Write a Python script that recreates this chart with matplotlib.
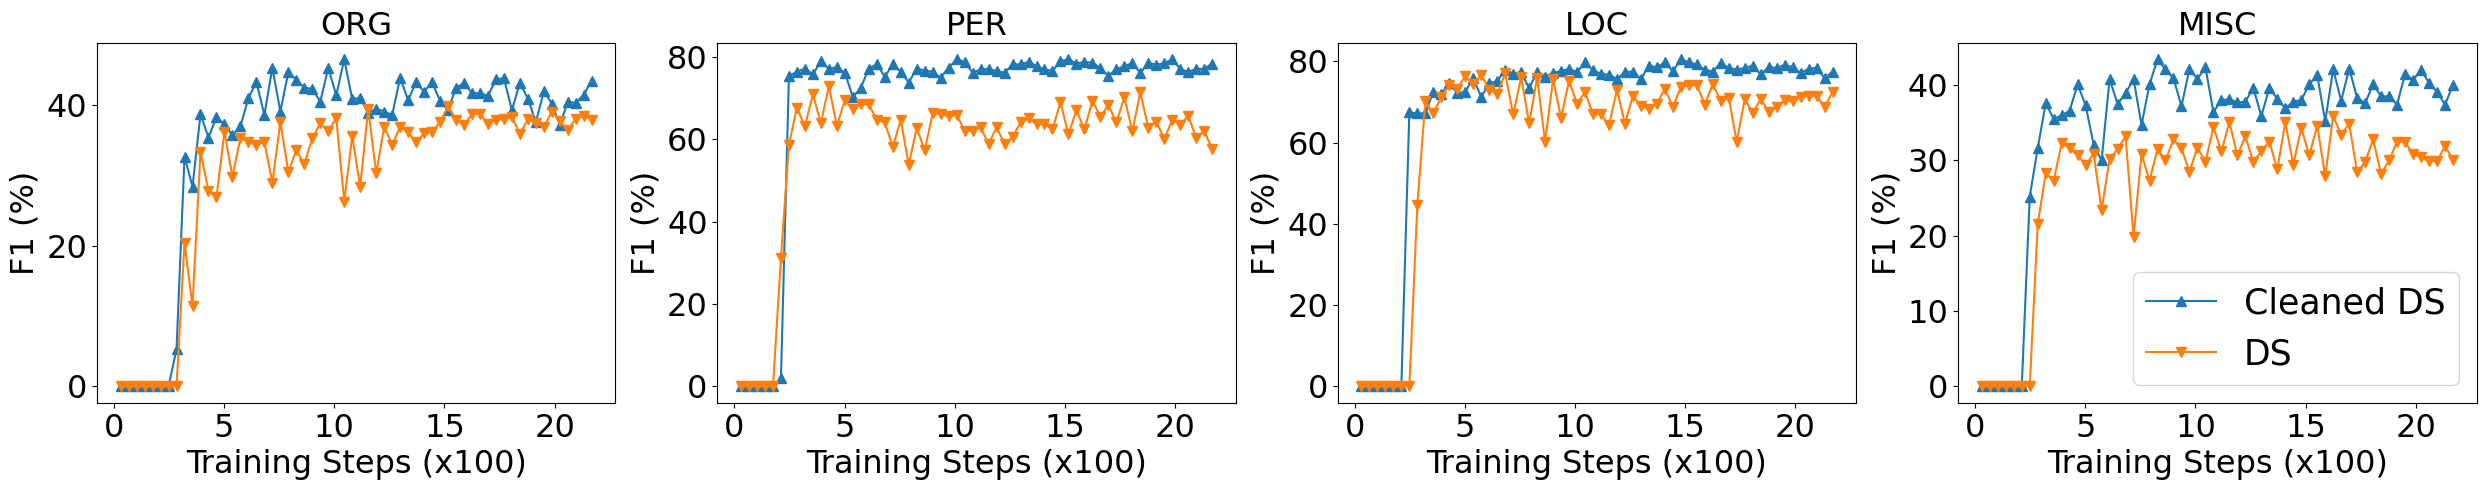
import matplotlib
matplotlib.use("Agg")
import matplotlib.pyplot as plt
import numpy as np

# evaluation points (x100 training steps)
steps = np.linspace(0.3, 21.69, 60)

org_clean = [0, 0, 0, 0, 0, 0, 0, 5.3, 32.7, 28.4, 38.7, 35.4, 38.3, 37.3, 35.7, 37.0, 41.0, 43.3,
             38.6, 45.3, 39.1, 44.7, 43.6, 42.5, 42.3, 40.5, 45.3, 41.4, 46.5, 40.9, 41.0, 38.9,
             39.5, 39.1, 38.6, 43.9, 40.7, 43.3, 41.9, 43.3, 40.6, 39.3, 42.5, 43.1, 41.7, 41.7,
             41.3, 43.7, 43.8, 39.3, 43.2, 40.9, 37.6, 42.0, 40.2, 37.2, 40.5, 40.3, 41.5, 43.5]
org_ds = [0, 0, 0, 0, 0, 0, 0, 0, 20.4, 11.4, 33.4, 27.8, 26.9, 36.2, 29.8, 35.4, 34.7, 34.4,
          34.7, 29.0, 37.6, 30.5, 33.6, 31.6, 35.3, 37.4, 36.3, 38.2, 26.3, 35.6, 28.4, 39.5,
          30.3, 36.9, 34.4, 36.9, 36.2, 34.7, 36.0, 36.2, 37.6, 39.9, 37.9, 37.2, 38.7, 38.8,
          37.3, 37.9, 38.0, 38.3, 35.9, 38.0, 37.4, 36.9, 39.1, 37.8, 36.4, 38.1, 38.5, 37.9]

per_clean = [0, 0, 0, 0, 0, 2.0, 75.4, 76.4, 77.2, 75.8, 79.0, 77.1, 77.5, 76.2, 70.3, 72.5,
             77.2, 78.2, 75.2, 78.2, 76.4, 73.8, 77.2, 76.7, 76.4, 75.0, 77.4, 79.4, 78.8, 76.2,
             77.0, 77.1, 76.6, 76.2, 78.2, 78.2, 78.8, 77.8, 77.0, 76.6, 79.0, 79.4, 78.4, 78.8,
             78.6, 77.3, 75.4, 77.1, 77.7, 78.6, 76.1, 78.6, 78.1, 78.5, 79.4, 77.1, 76.4, 77.1,
             77.1, 78.4]
per_ds = [0, 0, 0, 0, 0, 31.2, 58.7, 67.7, 63.2, 70.9, 64.0, 72.9, 63.3, 69.5, 67.3, 68.5,
          68.5, 64.7, 64.1, 58.2, 64.7, 53.8, 62.8, 57.3, 66.3, 66.1, 65.6, 65.9, 62.1, 62.1,
          62.9, 58.9, 62.9, 58.9, 60.6, 64.1, 65.1, 63.7, 63.7, 62.4, 69.0, 61.2, 67.1, 62.4,
          69.4, 65.5, 68.3, 64.1, 70.2, 62.0, 71.4, 62.8, 64.3, 60.1, 64.7, 63.6, 65.7, 60.4,
          62.0, 57.7]

loc_clean = [0, 0, 0, 0, 0, 0, 67.5, 67.2, 67.3, 72.6, 72.0, 74.7, 72.2, 72.5, 76.0, 71.2,
             74.7, 75.1, 78.0, 77.0, 77.4, 73.4, 77.4, 76.3, 77.2, 77.6, 78.2, 77.4, 79.8, 77.8,
             77.0, 76.7, 75.7, 77.4, 77.5, 75.7, 78.9, 78.6, 79.8, 77.6, 80.5, 79.8, 79.3, 78.0,
             77.5, 79.7, 78.4, 78.0, 78.4, 79.0, 76.8, 78.6, 78.4, 79.2, 78.6, 77.2, 78.2, 78.4,
             75.9, 77.5]
loc_ds = [0, 0, 0, 0, 0, 0, 0, 44.6, 70.2, 67.3, 71.2, 74.3, 73.3, 76.4, 74.5, 76.7, 73.1,
          72.0, 77.1, 67.0, 76.1, 64.8, 76.0, 60.2, 75.7, 66.1, 75.3, 69.6, 72.5, 67.0, 67.0,
          64.3, 73.0, 64.7, 71.6, 69.0, 68.4, 69.6, 73.3, 68.8, 73.7, 74.1, 74.3, 69.4, 74.5,
          70.2, 71.0, 60.2, 70.8, 67.3, 70.8, 67.5, 68.8, 70.4, 70.2, 71.2, 71.6, 71.5, 68.8,
          72.5]

misc_clean = [0, 0, 0, 0, 0, 0, 25.2, 31.6, 37.6, 35.5, 36.0, 36.6, 40.1, 37.3, 32.1, 30.0,
              40.8, 37.5, 38.9, 40.8, 34.7, 40.1, 43.4, 42.1, 40.9, 37.2, 42.1, 40.8, 42.4, 36.4,
              38.0, 38.1, 37.7, 37.8, 39.6, 35.9, 39.6, 38.2, 36.9, 37.8, 38.0, 40.1, 41.3, 35.2,
              42.1, 37.9, 42.2, 38.3, 37.6, 40.1, 38.5, 38.5, 37.4, 41.5, 40.7, 42.0, 40.3, 39.1,
              37.4, 40.0]
misc_ds = [0, 0, 0, 0, 0, 0, 0, 21.5, 28.3, 27.3, 32.3, 31.6, 30.7, 29.4, 30.9, 23.4, 30.2,
           31.5, 33.2, 19.9, 30.8, 27.3, 31.5, 30.0, 32.8, 31.6, 28.5, 31.7, 29.8, 34.4, 31.2,
           35.1, 30.7, 33.2, 29.8, 31.2, 32.5, 28.8, 35.1, 29.4, 34.3, 30.7, 34.6, 27.9, 35.9,
           33.4, 34.9, 28.4, 29.8, 32.8, 28.2, 30.0, 32.5, 32.5, 30.8, 30.5, 29.9, 29.9, 31.9,
           30.1]

titles = ["ORG", "PER", "LOC", "MISC"]
clean_series = [org_clean, per_clean, loc_clean, misc_clean]
ds_series = [org_ds, per_ds, loc_ds, misc_ds]
yticks = [[0, 20, 40], [0, 20, 40, 60, 80], [0, 20, 40, 60, 80], [0, 10, 20, 30, 40]]

fs = 23

fig, axes = plt.subplots(1, 4, figsize=(24.89, 4.9), dpi=100)
fig.subplots_adjust(left=0.039, right=0.995, bottom=0.178, top=0.912, wspace=0.197)

for i, ax in enumerate(axes):
    ax.plot(steps, clean_series[i], marker='^', markersize=7, color='C0', label='Cleaned DS')
    ax.plot(steps, ds_series[i], marker='v', markersize=7, color='C1', label='DS')
    ax.set_title(titles[i], fontsize=fs)
    ax.set_xlabel('Training Steps (x100)', fontsize=fs)
    ax.set_ylabel('F1 (%)', fontsize=fs)
    ax.set_xticks([0, 5, 10, 15, 20])
    ax.set_yticks(yticks[i])
    ax.tick_params(labelsize=fs)

# legend only on the last panel
axes[3].legend(loc='lower right', fontsize=25)

plt.savefig('out.png')
